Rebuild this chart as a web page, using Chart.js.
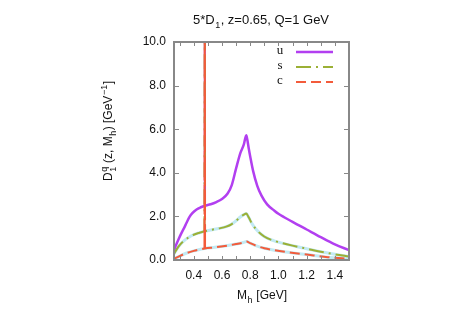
<!DOCTYPE html>
<html><head><meta charset="utf-8">
<script src="https://cdn.jsdelivr.net/npm/chart.js@4/dist/chart.umd.min.js"></script>
<style>html,body{margin:0;padding:0;background:#fff}</style>
</head>
<body>
<canvas id="c" width="463" height="316"></canvas>
<script>
// ---- data ----
const xTicks = [0.4, 0.6, 0.8, 1.0, 1.2, 1.4];
const yTicks = [0, 2, 4, 6, 8, 10];
const seriesLabels = ['u', 's', 'c'];

const uMh = [0.26,0.27,0.29,0.31,0.33,0.35,0.37,0.39,0.42,0.45,0.478,0.52,0.56,0.60,0.64,0.67,0.70,0.73,0.755,0.772,0.78,0.79,0.80,0.82,0.85,0.88,0.92,0.97,1.00,1.10,1.20,1.30,1.40,1.50];
const uD  = [0.45,0.62,0.92,1.2,1.45,1.72,1.98,2.15,2.32,2.42,2.49,2.56,2.66,2.8,3.05,3.45,4.2,4.9,5.3,5.72,5.5,5.1,4.75,4.1,3.4,2.95,2.55,2.27,2.12,1.75,1.4,1.05,0.72,0.45];

const sMh = [0.26,0.28,0.30,0.33,0.36,0.40,0.44,0.478,0.52,0.58,0.63,0.67,0.70,0.73,0.755,0.772,0.79,0.81,0.84,0.88,0.92,0.97,1.00,1.10,1.20,1.30,1.40,1.50];
const sD  = [0.28,0.5,0.68,0.88,1.02,1.16,1.25,1.32,1.38,1.45,1.53,1.65,1.8,1.97,2.08,2.13,1.95,1.7,1.42,1.17,1.0,0.88,0.82,0.66,0.52,0.38,0.26,0.16];

const cMh = [0.26,0.30,0.35,0.40,0.44,0.478,0.55,0.62,0.70,0.75,0.775,0.80,0.84,0.90,0.97,1.05,1.20,1.35,1.50];
const cD  = [0.05,0.18,0.32,0.42,0.48,0.53,0.58,0.64,0.73,0.8,0.85,0.77,0.66,0.54,0.45,0.37,0.25,0.13,0.05];

// narrow resonance spike at M_h ~ 0.478 GeV (runs off the top of the plot)
const spikeMh = [0.476, 0.478, 0.480];
const uSpike = [2.49, 12, 2.5];
const sSpike = [1.32, 12, 1.33];
const cSpike = [0.53, 12, 0.54];

// ---- styling ----
const SANS = '"Liberation Sans", Arial, Helvetica, sans-serif';
const SERIF = '"Liberation Serif", "Times New Roman", serif';
const COL = { u: '#b23ff0', s: '#9bb035', c: '#f35b3b' };
const HALO = '#c2eaf3';
const FRAME = '#888888';

function pts(xs, ys) { return xs.map((x, i) => ({ x: x, y: ys[i] })); }

function drawRich(ctx, segs, size, cx, baseline) {
  const small = Math.round(size * 0.72);
  let total = 0;
  segs.forEach(s => {
    if (s.t !== undefined) { ctx.font = size + 'px ' + SANS; s.w = ctx.measureText(s.t).width; }
    else {
      ctx.font = small + 'px ' + SANS;
      const a = s.sub ? ctx.measureText(s.sub).width : 0;
      const b = s.sup ? ctx.measureText(s.sup).width : 0;
      s.w = Math.max(a, b) + 1;
    }
    total += s.w;
  });
  let x = cx - total / 2;
  ctx.textAlign = 'left';
  ctx.textBaseline = 'alphabetic';
  segs.forEach(s => {
    if (s.t !== undefined) { ctx.font = size + 'px ' + SANS; ctx.fillText(s.t, x, baseline); }
    else {
      ctx.font = small + 'px ' + SANS;
      if (s.sub) ctx.fillText(s.sub, x + 0.5, baseline + size * 0.3);
      if (s.sup) ctx.fillText(s.sup, x + 0.5, baseline - size * 0.45);
    }
    x += s.w;
  });
}

const decorPlugin = {
  id: 'decor',
  afterDatasetsDraw(chart) {
    const ctx = chart.ctx, a = chart.chartArea;
    const xs = chart.scales.x, ys = chart.scales.y;
    ctx.save();
    ctx.strokeStyle = FRAME; ctx.lineWidth = 2;
    ctx.strokeRect(a.left, a.top, a.right - a.left, a.bottom - a.top);
    ctx.lineWidth = 1;
    ctx.beginPath();
    for (let v = 0.3; v <= 1.5001; v += 0.1) {
      const px = Math.round(xs.getPixelForValue(v)) + 0.5;
      ctx.moveTo(px, a.bottom); ctx.lineTo(px, a.bottom - 4);
      ctx.moveTo(px, a.top); ctx.lineTo(px, a.top + 4);
    }
    yTicks.forEach(v => {
      const py = Math.round(ys.getPixelForValue(v)) + 0.5;
      ctx.moveTo(a.left, py); ctx.lineTo(a.left + 5, py);
      ctx.moveTo(a.right, py); ctx.lineTo(a.right - 5, py);
    });
    ctx.stroke();

    const rows = [52, 67, 82];
    seriesLabels.forEach((lab, i) => {
      const ds = chart.data.datasets.find(d => d.label === lab);
      ctx.fillStyle = '#111';
      ctx.font = '13px ' + SERIF;
      ctx.textAlign = 'center'; ctx.textBaseline = 'middle';
      ctx.fillText(lab, 280, rows[i] - 1);
      ctx.strokeStyle = ds.borderColor; ctx.lineWidth = ds.borderWidth;
      ctx.setLineDash(ds.borderDash || []);
      ctx.beginPath(); ctx.moveTo(296, rows[i]); ctx.lineTo(333, rows[i]); ctx.stroke();
      ctx.setLineDash([]);
    });

    ctx.fillStyle = '#111';
    drawRich(ctx, [{ t: '5*D' }, { sub: '1' }, { t: ', z=0.65, Q=1 GeV' }], 13, 261, 24);
    drawRich(ctx, [{ t: 'M' }, { sub: 'h' }, { t: ' [GeV]' }], 12, 262, 299);
    ctx.translate(112, 131);
    ctx.rotate(-Math.PI / 2);
    drawRich(ctx, [{ t: 'D' }, { sub: '1', sup: 'q' }, { t: ' (z, M' }, { sub: 'h' }, { t: ') [GeV' }, { sup: '\u22121' }, { t: ']' }], 12, 0, 0);
    ctx.restore();
  }
};

new Chart(document.getElementById('c'), {
  type: 'line',
  data: {
    datasets: [
      { label: 'u', data: pts(uMh, uD), borderColor: COL.u, borderWidth: 2.5, order: 4 },
      { label: 's', data: pts(sMh, sD), borderColor: COL.s, borderWidth: 2, borderDash: [15, 5, 2, 5], order: 3 },
      { label: 'c', data: pts(cMh, cD), borderColor: COL.c, borderWidth: 2, borderDash: [10, 5], order: 2 },
      { label: 'u-spike', data: pts(spikeMh, uSpike), borderColor: COL.u, borderWidth: 2, tension: 0, cubicInterpolationMode: 'default', order: 6 },
      { label: 's-spike', data: pts(spikeMh, sSpike), borderColor: COL.s, borderWidth: 2, borderDash: [15, 5, 2, 5], tension: 0, cubicInterpolationMode: 'default', order: 5 },
      { label: 'c-spike', data: pts(spikeMh, cSpike), borderColor: COL.c, borderWidth: 2, borderDash: [30, 4], tension: 0, cubicInterpolationMode: 'default', order: 0 },
      { label: 's-band', data: pts(sMh, sD), borderColor: HALO, borderWidth: 3, order: 7 },
      { label: 'c-band', data: pts(cMh, cD), borderColor: HALO, borderWidth: 3, order: 8 }
    ]
  },
  options: {
    responsive: false,
    animation: false,
    layout: { padding: { left: 114, right: 114, top: 42, bottom: 0 } },
    elements: { point: { radius: 0 }, line: { cubicInterpolationMode: 'monotone', fill: false } },
    plugins: { legend: { display: false }, title: { display: false }, tooltip: { enabled: false } },
    scales: {
      x: {
        type: 'linear', min: 0.26, max: 1.5,
        grid: { display: false, drawTicks: false },
        border: { display: false },
        afterBuildTicks: s => { s.ticks = xTicks.map(v => ({ value: v })); },
        afterFit: s => { s.height = 56; },
        ticks: { color: '#111', font: { family: SANS, size: 12 }, padding: 8, maxRotation: 0,
                 callback: v => Number(v).toFixed(1) }
      },
      y: {
        min: 0, max: 10,
        grid: { display: false, drawTicks: false },
        border: { display: false },
        afterBuildTicks: s => { s.ticks = yTicks.map(v => ({ value: v })); },
        afterFit: s => { s.width = 60; },
        ticks: { color: '#111', font: { family: SANS, size: 12 }, padding: 8,
                 callback: v => Number(v).toFixed(1) }
      }
    }
  },
  plugins: [decorPlugin]
});
</script>
</body></html>
